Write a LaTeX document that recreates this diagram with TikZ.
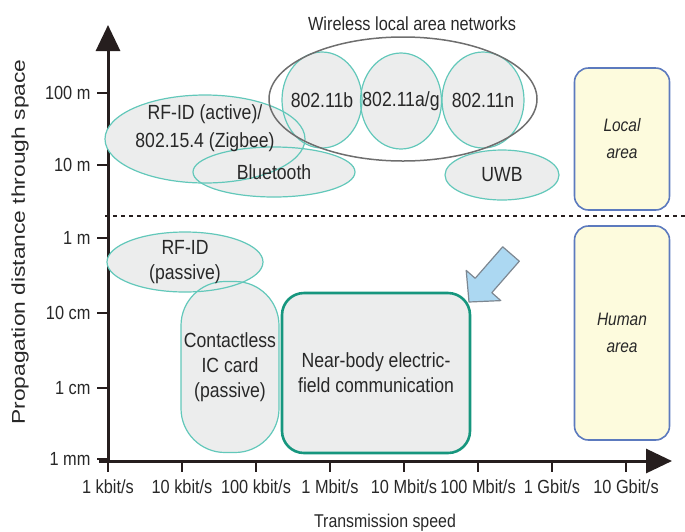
\documentclass[tikz,border=0pt]{standalone}
\usepackage{graphicx}
\usepackage{fontspec}
\setmainfont{Liberation Sans}[FakeStretch=0.86]
\usetikzlibrary{arrows.meta,shapes.geometric}

\definecolor{bubbleline}{RGB}{98,200,186}
\definecolor{bubblefill}{RGB}{236,237,237}
\definecolor{nearline}{RGB}{22,150,126}
\definecolor{wlanline}{RGB}{110,110,110}
\definecolor{areafill}{RGB}{253,251,221}
\definecolor{arealine}{RGB}{92,122,190}
\definecolor{hintfill}{RGB}{172,216,242}
\definecolor{hintline}{RGB}{125,135,145}
\definecolor{axiscol}{RGB}{38,30,30}
\definecolor{txtcol}{RGB}{40,40,40}

\pgfdeclarelayer{fills}
\pgfsetlayers{fills,main}

\tikzset{
	bubble/.style={ellipse, draw=bubbleline, line width=1.2pt, fill=bubblefill, inner sep=0pt},
	lbl/.style={text=txtcol, align=center, font=\fontsize{20.5}{25}\selectfont},
	ticklbl/.style={text=txtcol, font=\fontsize{19}{20}\selectfont},
	axistitle/.style={text=txtcol, font=\fontsize{18.5}{20}\selectfont},
	areabox/.style={rectangle, rounded corners=14pt, draw=arealine, line width=1.6pt, fill=areafill, minimum width=95pt, text=txtcol, align=center, font=\fontsize{18}{27}\selectfont\itshape},
	axisline/.style={draw=axiscol, line width=3pt, -{Triangle[length=26pt,width=24pt]}},
	tickmark/.style={draw=axiscol, line width=1.6pt},
	sepline/.style={draw=axiscol, line width=1.5pt, dash pattern=on 4pt off 4pt},
	hint/.style={draw=hintline, line width=1.2pt, fill=hintfill, line join=round},
}
% fill on the lower layer, outline on top, so overlapping outlines stay visible
\def\bubble[#1](#2)(#3)#4#5{%
	\begin{pgfonlayer}{fills}\node[bubble,#1,draw=none,minimum width=#4,minimum height=#5] at (#3) {};\end{pgfonlayer}
	\node[bubble,#1,fill=none,minimum width=#4,minimum height=#5] (#2) at (#3) {};}

\begin{document}
\begin{tikzpicture}[x=1pt, y=-1pt]
	%%%%% START %%%%%
	\useasboundingbox (0,0) rectangle (685,531);
	
	\coordinate (o) at (108,461);
	\coordinate (ystart) at (108,463);
	\coordinate (ytop) at (108,25);
	\coordinate (xstart) at (99,461);
	\coordinate (xend) at (672,461);
	\coordinate (sepl) at (105,216);
	\coordinate (sepr) at (685,216);
	
	% axes below the bubble fills
	\begin{pgfonlayer}{fills}
		\draw[axisline] (ystart) -- (ytop);
		\draw[axisline] (xstart) -- (xend);
	\end{pgfonlayer}
	
	\foreach \y/\lab in {93/{100 m}, 165/{10 m}, 238/{1 m}, 313/{10 cm}, 388/{1 cm}, 459/{1 mm}} {
		\draw[tickmark] (97,\y) -- (108,\y);
		\node[ticklbl, anchor=east] (yl\y) at (94,\y) {\lab};
	}
	\foreach \i/\lab in {0/{1 kbit/s}, 1/{10 kbit/s}, 2/{100 kbit/s}, 3/{1 Mbit/s}, 4/{10 Mbit/s}, 5/{100 Mbit/s}, 6/{1 Gbit/s}, 7/{10 Gbit/s}} {
		\draw[tickmark] (108+74*\i,461) -- (108+74*\i,472);
		\node[ticklbl] (xl\i) at (108+74*\i,487) {\lab};
	}
	
	\draw[sepline] (sepl) -- (sepr);
	
	% upper half: local area
	\bubble[](rfa)(205,139){200pt}{88pt}
	\bubble[](bt)(274,172){162pt}{50pt}
	\bubble[](b)(322,100){80pt}{96pt}
	\bubble[](ag)(401,101){81pt}{96pt}
	\bubble[](n)(483,100){82pt}{96pt}
	\bubble[](uwb)(502,175){114pt}{50pt}
	\node[ellipse, draw=wlanline, line width=1.5pt, minimum width=268pt, minimum height=124pt] (wlan) at (403,99) {};
	
	% lower half: human area
	\bubble[](rfp)(185,262){156pt}{60pt}
	\bubble[rectangle, rounded corners=44pt](ic)(230,367){98pt}{171pt}
	\bubble[rectangle, rounded corners=22pt, draw=nearline, line width=2.6pt](nb)(376,373){188pt}{160pt}
	
	\node[lbl, yshift=11pt, font=\fontsize{20.5}{28}\selectfont] (rfaTxt) at (rfa) {RF-ID (active)/\\802.15.4 (Zigbee)};
	\node[lbl] (btTxt) at (bt) {Bluetooth};
	\node[lbl] (bTxt) at (b) {802.11b};
	\node[lbl] (agTxt) at (ag) {802.11a/g};
	\node[lbl] (nTxt) at (n) {802.11n};
	\node[lbl] (uwbTxt) at (uwb) {UWB};
	\node[lbl] (rfpTxt) at (rfp) {RF-ID\\(passive)};
	\node[lbl] (icTxt) at (ic) {Contactless\\IC card\\(passive)};
	\node[lbl] (nbTxt) at (nb) {Near-body electric-\\field communication};
	\node[ticklbl] (wlanTxt) at (412,24) {Wireless local area networks};
	
	\node[areabox, minimum height=142pt] (local) at (622,139) {Local\\area};
	\node[areabox, minimum height=214pt] (human) at (622,333) {Human\\area};
	
	\draw[hint] (469,302) -- (466.2,270.4) -- (475.2,278.3) -- (502.7,246.8) -- (519.3,261.2) -- (491.8,292.7) -- (500.8,300.6) -- cycle;
	
	\node[axistitle] (xtitle) at (385,523) {Transmission speed};
	\node[axistitle, rotate=90] (ytitle) at (20,242) {\resizebox{365pt}{\height}{Propagation distance through space}};
	%%%%% END %%%%%
\end{tikzpicture}
\end{document}
